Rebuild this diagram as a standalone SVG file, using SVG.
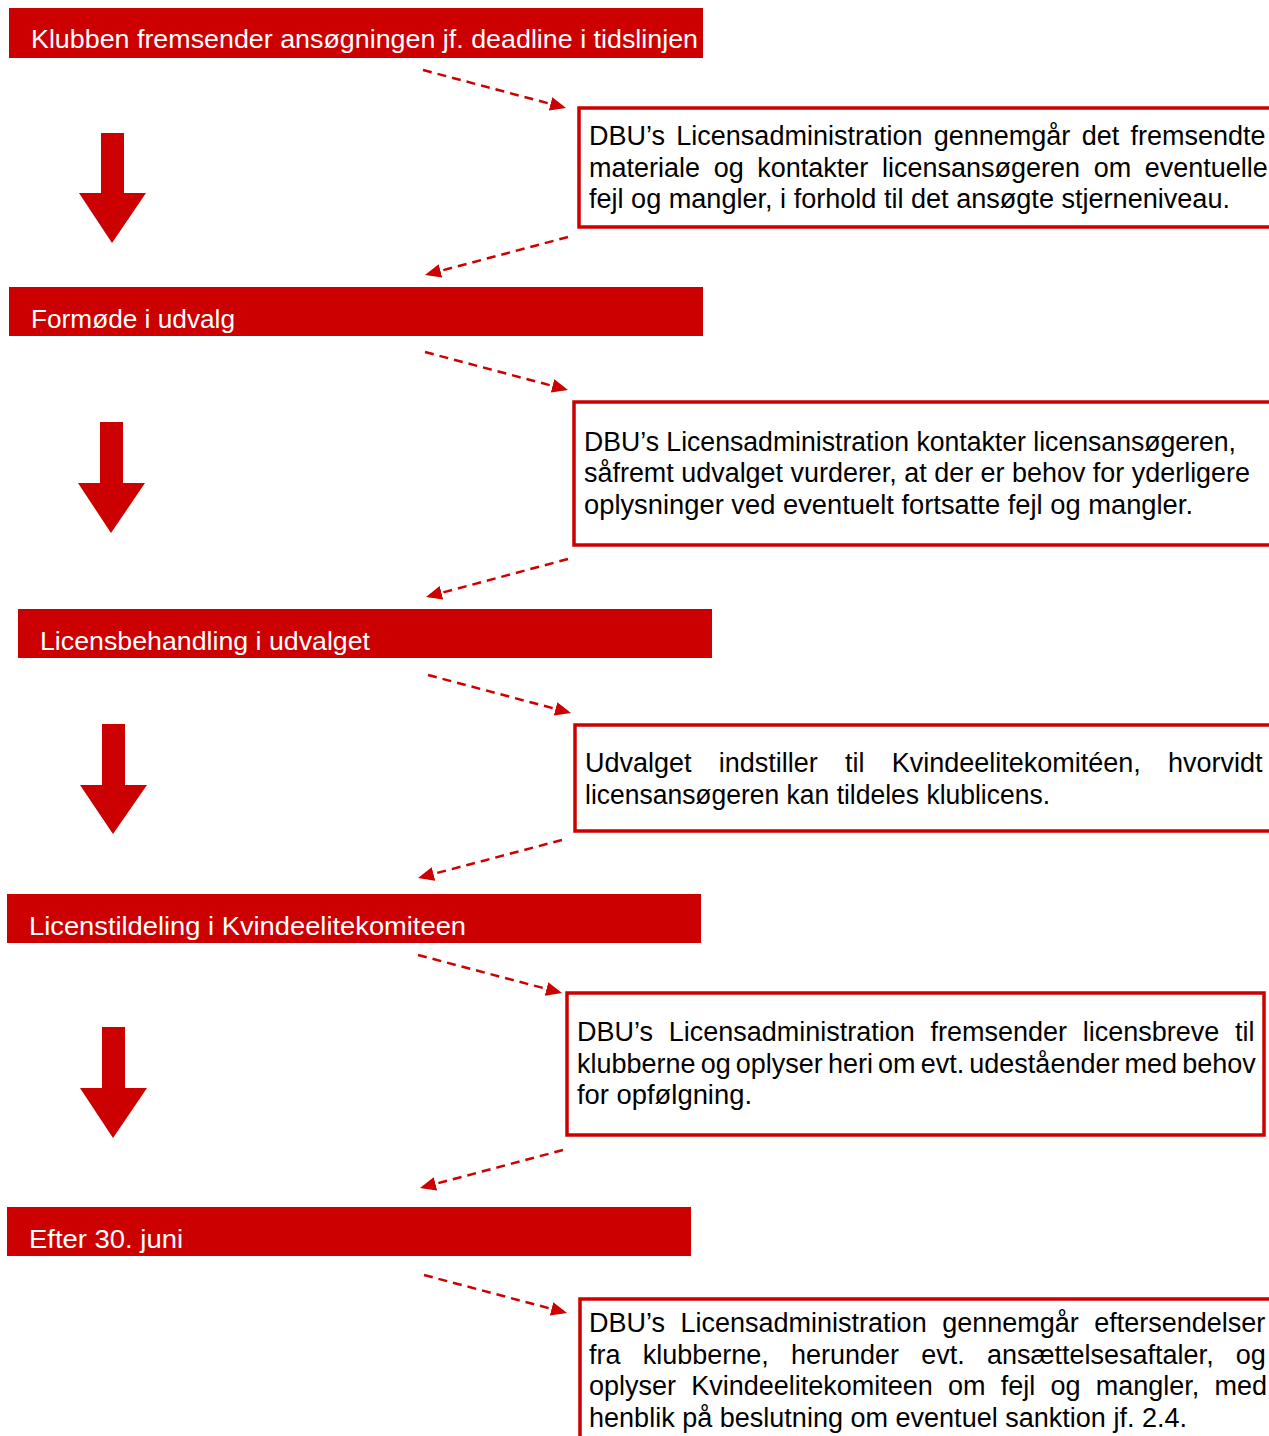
<svg xmlns="http://www.w3.org/2000/svg" width="1269" height="1436" viewBox="0 0 1269 1436">
<defs>
<style>
.bar{fill:#CC0000;}
.htxt{fill:#FFFFFF;font-family:"Liberation Sans",Arial,sans-serif;font-size:25px;}
.box{fill:#FFFFFF;stroke:#CC0000;stroke-width:3.5;}
.btxt{fill:#000000;font-family:"Liberation Sans",Arial,sans-serif;font-size:27px;}
.dash{fill:none;stroke:#CC0000;stroke-width:2.5;stroke-dasharray:9 6;}
.down{fill:#CC0000;}
</style>
<marker id="ah" markerUnits="userSpaceOnUse" markerWidth="16" markerHeight="14" refX="16" refY="7" orient="auto">
<path d="M0,0 L16,7 L0,14 z" fill="#CC0000"/>
</marker>
</defs>
<rect width="1269" height="1436" fill="#FFFFFF"/>

<g id="step1">
<rect class="bar" x="9" y="8" width="694" height="50"/>
<text class="htxt" x="31" y="48" textLength="667" lengthAdjust="spacingAndGlyphs">Klubben fremsender ansøgningen jf. deadline i tidslinjen</text>
</g>
<g id="note1">
<rect class="box" x="579" y="108" width="710" height="119"/>
<text class="btxt" x="589" y="145" word-spacing="3.8">DBU’s Licensadministration gennemgår det fremsendte</text>
<text class="btxt" x="589" y="177" word-spacing="6.1">materiale og kontakter licensansøgeren om eventuelle</text>
<text class="btxt" x="589" y="208" textLength="641" lengthAdjust="spacingAndGlyphs">fejl og mangler, i forhold til det ansøgte stjerneniveau.</text>
</g>

<g id="step2">
<rect class="bar" x="9" y="287" width="694" height="49"/>
<text class="htxt" x="31" y="328" textLength="204" lengthAdjust="spacingAndGlyphs">Formøde i udvalg</text>
</g>
<g id="note2">
<rect class="box" x="574" y="402" width="715" height="143"/>
<text class="btxt" x="584" y="451" textLength="652" lengthAdjust="spacingAndGlyphs">DBU’s Licensadministration kontakter licensansøgeren,</text>
<text class="btxt" x="584" y="482" textLength="666" lengthAdjust="spacingAndGlyphs">såfremt udvalget vurderer, at der er behov for yderligere</text>
<text class="btxt" x="584" y="514" textLength="609" lengthAdjust="spacingAndGlyphs">oplysninger ved eventuelt fortsatte fejl og mangler.</text>
</g>

<g id="step3">
<rect class="bar" x="18" y="609" width="694" height="49"/>
<text class="htxt" x="40" y="650" textLength="330" lengthAdjust="spacingAndGlyphs">Licensbehandling i udvalget</text>
</g>
<g id="note3">
<rect class="box" x="575" y="725" width="714" height="106"/>
<text class="btxt" x="585" y="772" word-spacing="19.7">Udvalget indstiller til Kvindeelitekomitéen, hvorvidt</text>
<text class="btxt" x="585" y="804" textLength="465" lengthAdjust="spacingAndGlyphs">licensansøgeren kan tildeles klublicens.</text>
</g>

<g id="step4">
<rect class="bar" x="7" y="894" width="694" height="49"/>
<text class="htxt" x="29" y="935" textLength="437" lengthAdjust="spacingAndGlyphs">Licenstildeling i Kvindeelitekomiteen</text>
</g>
<g id="note4">
<rect class="box" x="567" y="993" width="697" height="142"/>
<text class="btxt" x="577" y="1041" word-spacing="8.2">DBU’s Licensadministration fremsender licensbreve til</text>
<text class="btxt" x="577" y="1073" word-spacing="-2.4">klubberne og oplyser heri om evt. udeståender med behov</text>
<text class="btxt" x="577" y="1104" textLength="175" lengthAdjust="spacingAndGlyphs">for opfølgning.</text>
</g>

<g id="step5">
<rect class="bar" x="7" y="1207" width="684" height="49"/>
<text class="htxt" x="29" y="1248" textLength="154" lengthAdjust="spacingAndGlyphs">Efter 30. juni</text>
</g>
<g id="note5">
<rect class="box" x="580" y="1299" width="710" height="160"/>
<text class="btxt" x="589" y="1332" word-spacing="8">DBU’s Licensadministration gennemgår eftersendelser</text>
<text class="btxt" x="589" y="1364" word-spacing="14.7">fra klubberne, herunder evt. ansættelsesaftaler, og</text>
<text class="btxt" x="589" y="1395" word-spacing="7.7">oplyser Kvindeelitekomiteen om fejl og mangler, med</text>
<text class="btxt" x="589" y="1427" textLength="598" lengthAdjust="spacingAndGlyphs">henblik på beslutning om eventuel sanktion jf. 2.4.</text>
</g>

<g id="connectors">
<path class="down" d="M101,133 H124 V193 H146 L112,243 L79,193 H101 Z"/>
<path class="down" d="M100,422 H123 V483 H145 L111,533 L78,483 H100 Z"/>
<path class="down" d="M102,724 H125 V785 H147 L113,834 L80,785 H102 Z"/>
<path class="down" d="M102,1027 H125 V1088 H147 L113,1138 L80,1088 H102 Z"/>
<line class="dash" x1="423" y1="70" x2="566" y2="108" marker-end="url(#ah)"/>
<line class="dash" x1="568" y1="237" x2="425" y2="275" marker-end="url(#ah)"/>
<line class="dash" x1="425" y1="352" x2="568" y2="390" marker-end="url(#ah)"/>
<line class="dash" x1="568" y1="559" x2="426" y2="597" marker-end="url(#ah)"/>
<line class="dash" x1="428" y1="675" x2="571" y2="713" marker-end="url(#ah)"/>
<line class="dash" x1="562" y1="840" x2="418" y2="878" marker-end="url(#ah)"/>
<line class="dash" x1="418" y1="955" x2="562" y2="993" marker-end="url(#ah)"/>
<line class="dash" x1="563" y1="1150" x2="420" y2="1188" marker-end="url(#ah)"/>
<line class="dash" x1="424" y1="1275" x2="567" y2="1313" marker-end="url(#ah)"/>
</g>
</svg>
